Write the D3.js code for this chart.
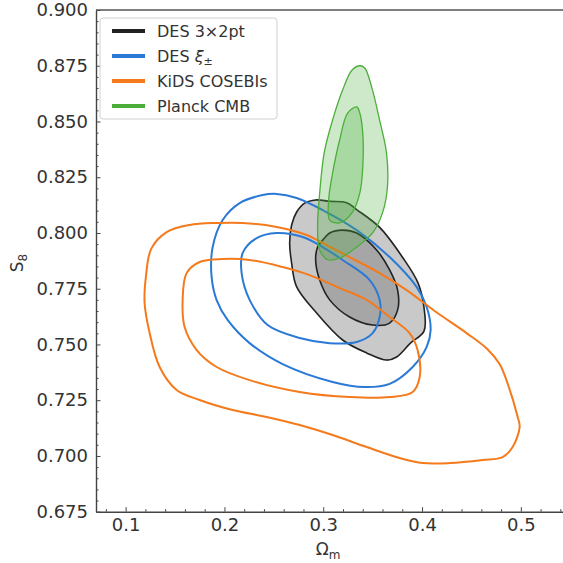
<!DOCTYPE html>
<html><head><meta charset="utf-8">
<script src="https://cdn.jsdelivr.net/npm/d3@7/dist/d3.min.js"></script>
<style>body{margin:0;background:#fff}svg{display:block;font-family:"DejaVu Sans",sans-serif}</style>
</head><body><svg id="c" width="563" height="563"></svg>
<script>
// ---- data (Omega_m, S8) ----
const seriesNames = ["DES 3×2pt", "DES ξ±", "KiDS COSEBIs", "Planck CMB"];
const seriesColors = ["#222222", "#2a7ad5", "#f57a1c", "#4cae3a"];
const xTicks = [0.1, 0.2, 0.3, 0.4, 0.5];
const yTicks = [0.675, 0.700, 0.725, 0.750, 0.775, 0.800, 0.825, 0.850, 0.875, 0.900];

const des3x2_95 = [[0.2923,0.8148],[0.3065,0.8142],[0.3237,0.8136],[0.3338,0.8105],[0.3571,0.8025],[0.3804,0.7890],[0.3960,0.7775],[0.4020,0.7665],[0.4020,0.7560],[0.3880,0.7505],[0.3743,0.7444],[0.3642,0.7430],[0.3439,0.7462],[0.3196,0.7520],[0.2933,0.7641],[0.2731,0.7758],[0.2680,0.7865],[0.2660,0.7955],[0.2680,0.8036],[0.2731,0.8094],[0.2812,0.8134]];
const des3x2_68 = [[0.3196,0.8013],[0.3338,0.8000],[0.3540,0.7924],[0.3672,0.7834],[0.3753,0.7744],[0.3753,0.7655],[0.3672,0.7596],[0.3500,0.7587],[0.3267,0.7623],[0.3065,0.7700],[0.2964,0.7789],[0.2923,0.7879],[0.2943,0.7937],[0.2994,0.7968],[0.3065,0.8000]];
const desXi_95 = [[0.2387,0.8170],[0.2528,0.8175],[0.2731,0.8157],[0.2994,0.8103],[0.3338,0.8013],[0.3672,0.7892],[0.3945,0.7758],[0.4047,0.7668],[0.4087,0.7565],[0.4047,0.7489],[0.3905,0.7399],[0.3672,0.7323],[0.3419,0.7309],[0.3095,0.7332],[0.2589,0.7412],[0.2255,0.7506],[0.2032,0.7610],[0.1921,0.7699],[0.1870,0.7803],[0.1881,0.7937],[0.1982,0.8058],[0.2154,0.8134]];
const desXi_68 = [[0.2528,0.8000],[0.2792,0.7982],[0.2994,0.7937],[0.3196,0.7879],[0.3470,0.7789],[0.3571,0.7700],[0.3571,0.7623],[0.3500,0.7551],[0.3338,0.7511],[0.3065,0.7506],[0.2761,0.7529],[0.2437,0.7587],[0.2255,0.7700],[0.2174,0.7820],[0.2184,0.7910],[0.2326,0.7977]];
const kids_95 = [[0.1921,0.8045],[0.2184,0.8045],[0.2528,0.8027],[0.2832,0.7991],[0.2994,0.7955],[0.3267,0.7892],[0.3571,0.7820],[0.3844,0.7744],[0.4128,0.7650],[0.4451,0.7551],[0.4660,0.7480],[0.4785,0.7412],[0.4870,0.7320],[0.4968,0.7175],[0.4988,0.7130],[0.4917,0.7040],[0.4816,0.6995],[0.4613,0.6982],[0.4279,0.6968],[0.4006,0.6968],[0.3773,0.6991],[0.3439,0.7040],[0.3095,0.7094],[0.2761,0.7139],[0.2427,0.7175],[0.2083,0.7206],[0.1749,0.7251],[0.1516,0.7296],[0.1344,0.7399],[0.1243,0.7551],[0.1192,0.7686],[0.1205,0.7803],[0.1260,0.7930],[0.1415,0.8004],[0.1648,0.8036]];
const kids_68 = [[0.1982,0.7883],[0.2255,0.7879],[0.2589,0.7847],[0.2862,0.7811],[0.3166,0.7753],[0.3439,0.7700],[0.3672,0.7623],[0.3874,0.7551],[0.3955,0.7475],[0.3976,0.7354],[0.3905,0.7287],[0.3672,0.7264],[0.3267,0.7264],[0.2761,0.7287],[0.2255,0.7340],[0.1921,0.7399],[0.1719,0.7475],[0.1597,0.7578],[0.1577,0.7699],[0.1617,0.7820],[0.1749,0.7870]];
const planck_95 = [[0.3370,0.8750],[0.3420,0.8740],[0.3490,0.8655],[0.3570,0.8507],[0.3640,0.8360],[0.3650,0.8206],[0.3600,0.8090],[0.3500,0.8000],[0.3340,0.7937],[0.3170,0.7888],[0.3045,0.7880],[0.2964,0.7924],[0.2943,0.8027],[0.2964,0.8179],[0.3010,0.8360],[0.3095,0.8507],[0.3196,0.8641],[0.3290,0.8730]];
const planck_68 = [[0.3340,0.8565],[0.3370,0.8538],[0.3400,0.8448],[0.3400,0.8296],[0.3370,0.8179],[0.3290,0.8090],[0.3166,0.8045],[0.3065,0.8058],[0.3055,0.8148],[0.3095,0.8269],[0.3166,0.8417],[0.3247,0.8538]];

// ---- layout ----
const svg = d3.select("#c");
const L = 96, T = 10, B = 511.7;
const x = d3.scaleLinear().domain([0.07, 0.55]).range([L, L + 0.48 * 988]);
const y = d3.scaleLinear().domain([0.675, 0.900]).range([B, T]);
const line = d3.line().x(d => x(d[0])).y(d => y(d[1])).curve(d3.curveCatmullRomClosed.alpha(0.5));

const g = svg.append("g");
// DES 3x2pt filled
[des3x2_95, des3x2_68].forEach(c => g.append("path").attr("d", line(c)).attr("fill", "rgb(100,100,100)")
  .attr("fill-opacity", 0.35).attr("stroke", seriesColors[0]).attr("stroke-width", 1.6));
// DES xi
[desXi_95, desXi_68].forEach(c => g.append("path").attr("d", line(c)).attr("fill", "none")
  .attr("stroke", seriesColors[1]).attr("stroke-width", 2));
// KiDS
[kids_95, kids_68].forEach(c => g.append("path").attr("d", line(c)).attr("fill", "none")
  .attr("stroke", seriesColors[2]).attr("stroke-width", 2));
// Planck filled
[planck_95, planck_68].forEach(c => g.append("path").attr("d", line(c)).attr("fill", "rgb(76,175,60)")
  .attr("fill-opacity", 0.28).attr("stroke", seriesColors[3]).attr("stroke-width", 1.3));

// ---- axes ----
const xMinor = d3.range(0.08, 0.5401, 0.02).filter(v => !xTicks.some(t => Math.abs(t - v) < 1e-6));
const yMinor = d3.range(0.675, 0.9001, 0.005).filter(v => !yTicks.some(t => Math.abs(t - v) < 1e-6));

svg.append("g").attr("transform", `translate(0,${B})`)
  .call(d3.axisBottom(x).tickValues(xTicks).tickSizeInner(-4.5).tickSizeOuter(0).tickPadding(7).tickFormat(d3.format(".1f")));
svg.append("g").attr("transform", `translate(0,${B})`)
  .call(d3.axisBottom(x).tickValues(xMinor).tickSizeInner(-2.5).tickSizeOuter(0).tickFormat(""))
  .call(s => s.select(".domain").remove());
svg.append("g").attr("transform", `translate(${L},0)`)
  .call(d3.axisLeft(y).tickValues(yTicks).tickSizeInner(-4.5).tickSizeOuter(0).tickPadding(8).tickFormat(d3.format(".3f")));
svg.append("g").attr("transform", `translate(${L},0)`)
  .call(d3.axisLeft(y).tickValues(yMinor).tickSizeInner(-2.5).tickSizeOuter(0).tickFormat(""))
  .call(s => s.select(".domain").remove());
svg.selectAll(".tick text").attr("font-size", 18).attr("fill", "#333").attr("font-family", "DejaVu Sans");
svg.selectAll(".tick line").attr("stroke", "#444").attr("stroke-width", 1);
svg.selectAll(".domain").attr("stroke", "#444").attr("stroke-width", 1.4);
// top spine
svg.append("line").attr("x1", L).attr("x2", 563).attr("y1", T).attr("y2", T)
  .attr("stroke", "#555").attr("stroke-width", 1.6);

// axis labels
const xl = svg.append("text").attr("x", x(0.305)).attr("y", 555).attr("text-anchor", "middle")
  .attr("font-size", 17).attr("fill", "#333");
xl.append("tspan").text("Ω");
xl.append("tspan").attr("font-size", 12).attr("dy", 4).text("m");
const yl = svg.append("text").attr("transform", `translate(23,${y(0.7865)}) rotate(-90)`).attr("text-anchor", "middle")
  .attr("font-size", 17).attr("fill", "#333");
yl.append("tspan").text("S");
yl.append("tspan").attr("font-size", 12).attr("dy", 4).text("8");

// ---- legend ----
const lg = svg.append("g");
lg.append("rect").attr("x", 100).attr("y", 18).attr("width", 177).attr("height", 101).attr("rx", 3)
  .attr("fill", "#fff").attr("fill-opacity", 0.85).attr("stroke", "#d0d0d0").attr("stroke-width", 1);
seriesNames.forEach((n, i) => {
  const cy = 31 + i * 25;
  lg.append("line").attr("x1", 112).attr("x2", 145).attr("y1", cy).attr("y2", cy)
    .attr("stroke", seriesColors[i]).attr("stroke-width", 4);
  const t = lg.append("text").attr("x", 157).attr("y", cy + 6).attr("font-size", 16).attr("fill", "#333");
  if (n === "DES ξ±") {
    t.append("tspan").text("DES ");
    t.append("tspan").attr("font-style", "italic").text("ξ");
    t.append("tspan").attr("font-size", 11).attr("dy", 3).text("±");
  } else t.text(n);
});
</script></body></html>
